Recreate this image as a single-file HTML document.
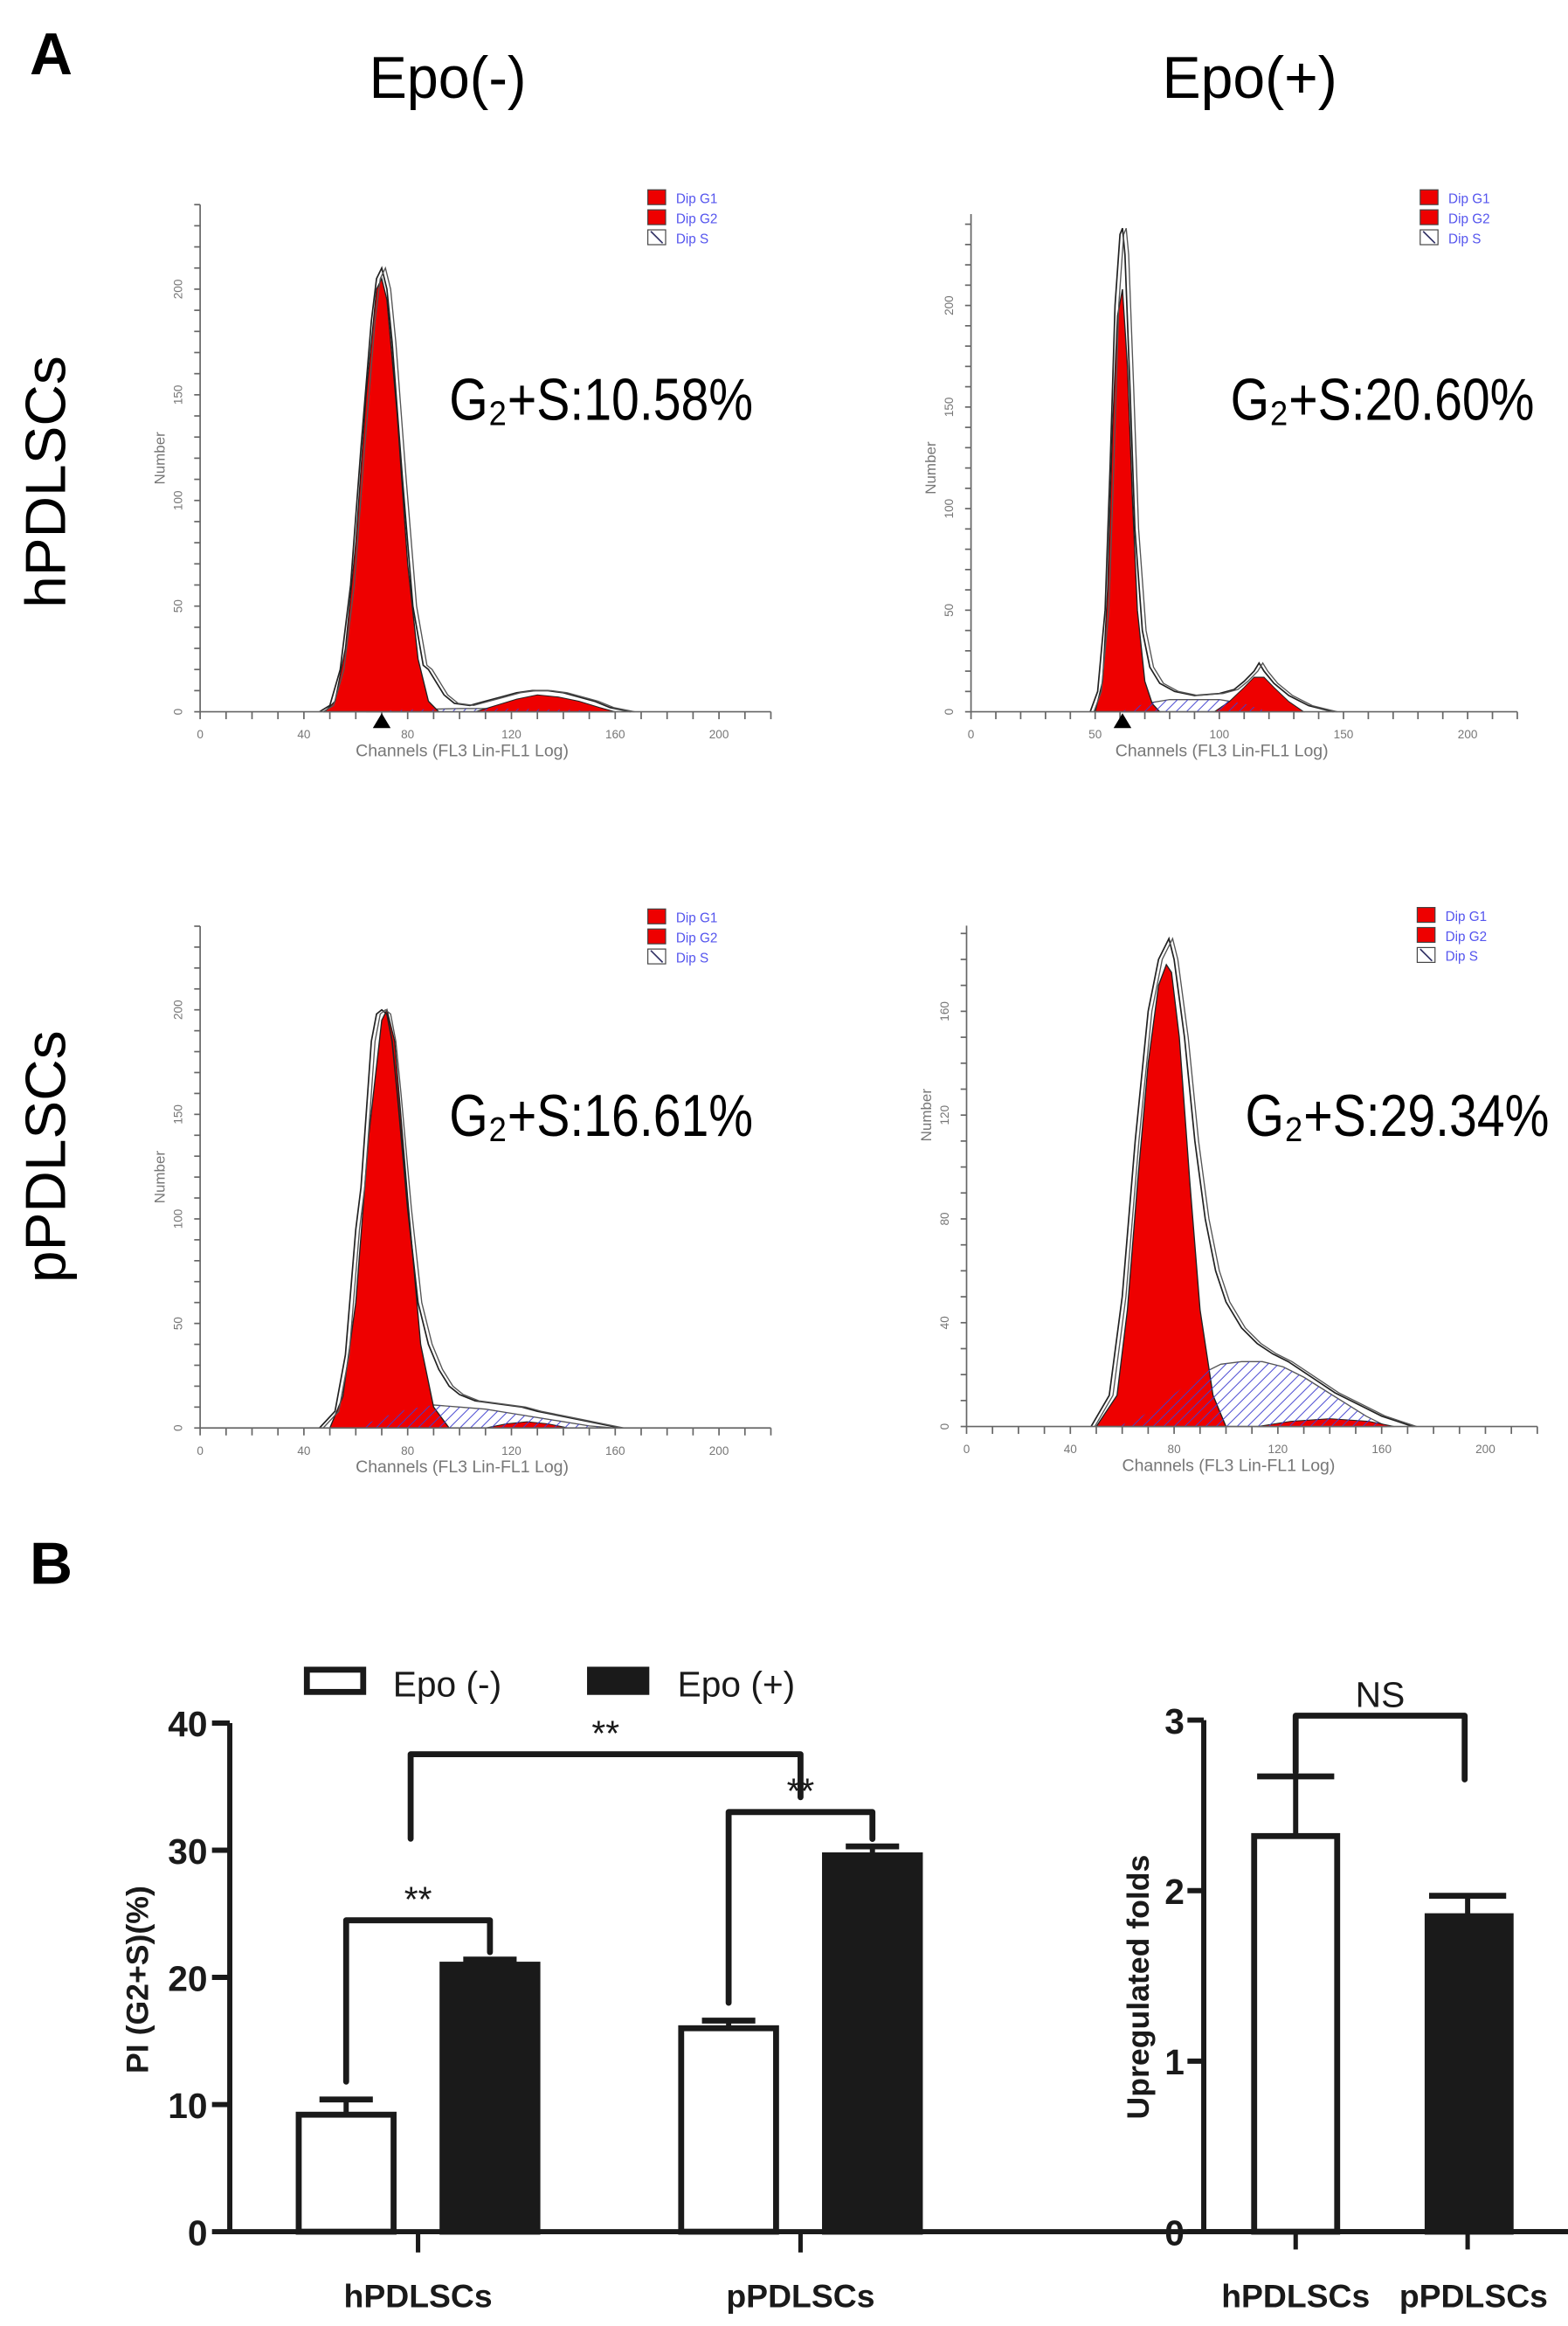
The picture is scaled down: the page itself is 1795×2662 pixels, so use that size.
<!DOCTYPE html>
<html><head><meta charset="utf-8">
<style>
html,body{margin:0;padding:0;background:#fff;}
svg{display:block;}
text{font-family:"Liberation Sans",Arial,sans-serif;}
</style></head>
<body>
<svg id="fig" width="1795" height="2662" viewBox="0 0 1057.7 1568.6" preserveAspectRatio="none" xmlns="http://www.w3.org/2000/svg">
<defs>
<pattern id="hatch" patternUnits="userSpaceOnUse" width="5" height="5" patternTransform="rotate(45)">
<rect width="5" height="5" fill="none"/>
<line x1="0" y1="0" x2="0" y2="5" stroke="#4040d0" stroke-width="1.1"/>
</pattern>
</defs>
<text x="20" y="50" font-size="40" font-weight="bold">A</text>
<text x="20" y="1068" font-size="40" font-weight="bold">B</text>
<text x="302" y="66" font-size="40" text-anchor="middle" textLength="106" lengthAdjust="spacingAndGlyphs">Epo(-)</text>
<text x="843" y="66" font-size="40" text-anchor="middle" textLength="118" lengthAdjust="spacingAndGlyphs">Epo(+)</text>
<text transform="translate(44,325) rotate(-90)" font-size="38" text-anchor="middle" textLength="170" lengthAdjust="spacingAndGlyphs">hPDLSCs</text>
<text transform="translate(44,780) rotate(-90)" font-size="38" text-anchor="middle" textLength="170" lengthAdjust="spacingAndGlyphs">pPDLSCs</text>
<g id="hists"></g>
<g id="bars"></g>
</svg>
<script>
// ---------- Histogram data (channel, count) ----------
const p1TotalCh = [46,50,54,58,62,66,68,70,72,74,78,82,86,88,90,94,98,104,110,116,122,128,134,140,146,152,158,162,166];
const p1TotalN  = [0,3,20,60,125,185,205,210,200,175,110,50,22,20,16,8,4,3,5,7,9,10,10,9,7,5,2,1,0];
const p1G1Ch = [48,52,56,60,64,68,70,72,76,80,84,88,92];
const p1G1N  = [0,5,30,80,150,200,205,195,140,70,25,5,0];
const p1G2Ch = [106,114,122,130,138,146,154,160];
const p1G2N  = [0,3,6,8,7,5,2,0];
const p1SCh = [64,80,100,120,140,160];
const p1SN  = [0,1,1.5,1.5,1,0];

const p2TotalCh = [48,51,54,56,58,60,61,62,64,66,69,72,76,82,90,100,106,110,114,116,118,122,128,136,146];
const p2TotalN  = [0,10,50,120,200,235,238,225,160,90,40,22,14,10,8,9,11,15,20,24,20,14,8,3,0];
const p2G1Ch = [50,53,55,57,59,61,63,65,67,70,73,76];
const p2G1N  = [0,15,60,140,195,208,170,105,50,15,4,0];
const p2G2Ch = [98,104,110,114,118,122,128,134];
const p2G2N  = [0,5,12,17,17,12,5,0];
const p2SCh = [60,70,80,90,100,110,120];
const p2SN  = [0,4,6,6,6,4,0];

const p3TotalCh = [46,52,56,60,62,64,66,68,70,72,74,76,80,84,88,92,96,100,106,112,118,124,130,138,146,154,162];
const p3TotalN  = [0,8,35,95,115,150,185,198,200,198,185,160,105,60,40,28,20,16,13,12,11,10,8,6,4,2,0];
const p3G1Ch = [50,55,60,65,70,72,75,80,85,90,96];
const p3G1N  = [0,15,60,140,195,200,185,110,40,10,0];
const p3G2Ch = [110,118,126,134,142];
const p3G2N  = [0,2,3,2,0];
const p3SCh = [60,70,80,90,100,110,120,130,140,150,160];
const p3SN  = [0,5,9,11,10,9,7,5,3,1,0];

const p4TotalCh = [48,55,60,65,70,74,78,80,84,88,92,96,100,106,112,118,124,130,136,142,148,154,160,166,172];
const p4TotalN  = [0,12,50,110,160,180,188,180,150,110,80,60,48,38,32,28,25,21,17,13,10,7,4,2,0];
const p4G1Ch = [50,58,62,66,70,74,77,79,82,86,90,95,100];
const p4G1N  = [0,12,45,95,140,170,178,175,150,95,45,12,0];
const p4G2Ch = [112,125,140,155,165];
const p4G2N  = [0,2,3,2,0];
const p4SCh = [58,66,74,82,90,98,106,114,122,130,138,146,154,162];
const p4SN  = [0,3,8,14,20,24,25,25,23,19,14,9,4,0];

const histTitles = ["G\u2082+S:10.58%","G\u2082+S:20.60%","G\u2082+S:16.61%","G\u2082+S:29.34%"];
const histYTicks = [[0,50,100,150,200],[0,50,100,150,200],[0,50,100,150,200],[0,40,80,120,160]];
const histXTicks = [[0,40,80,120,160,200],[0,50,100,150,200],[0,40,80,120,160,200],[0,40,80,120,160,200]];

// ---------- Bar chart data ----------
const groups = ["hPDLSCs","pPDLSCs"];
const epoMinus = [9.2, 16.0];
const epoMinusErr = [1.2, 0.6];
const epoPlus = [21.0, 29.6];
const epoPlusErr = [0.4, 0.7];
const yTicksLeft = [0,10,20,30,40];
const foldValues = [2.32, 1.85];
const foldErr = [0.35, 0.12];
const yTicksRight = [0,1,2,3];

const NS='http://www.w3.org/2000/svg';
function mk(tag, attrs, parent){const e=document.createElementNS(NS,tag);for(const k in attrs)e.setAttribute(k,attrs[k]);parent.appendChild(e);return e;}

const panels = [
 {ox:135,oy:480,sx:1.75,sy:1.425,ymax:240,xmax:220,tot:[p1TotalCh,p1TotalN],g1:[p1G1Ch,p1G1N],g2:[p1G2Ch,p1G2N],s:[p1SCh,p1SN],tx:303,ty:283,lx:437,ly:128,marker:70},
 {ox:655,oy:480,sx:1.675,sy:1.37,ymax:245,xmax:220,tot:[p2TotalCh,p2TotalN],g1:[p2G1Ch,p2G1N],g2:[p2G2Ch,p2G2N],s:[p2SCh,p2SN],tx:830,ty:283,lx:958,ly:128,marker:61},
 {ox:135,oy:963,sx:1.75,sy:1.41,ymax:240,xmax:220,tot:[p3TotalCh,p3TotalN],g1:[p3G1Ch,p3G1N],g2:[p3G2Ch,p3G2N],s:[p3SCh,p3SN],tx:303,ty:766,lx:437,ly:613,marker:null},
 {ox:652,oy:962,sx:1.75,sy:1.75,ymax:193,xmax:220,tot:[p4TotalCh,p4TotalN],g1:[p4G1Ch,p4G1N],g2:[p4G2Ch,p4G2N],s:[p4SCh,p4SN],tx:840,ty:766,lx:956,ly:612,marker:null}
];
const hg=document.getElementById('hists');
panels.forEach((p,i)=>{
  const g=mk('g',{},hg);
  
  
  const X=c=>p.ox+c*p.sx, Y=n=>p.oy-n*p.sy;
  const area=(arr)=>{let d='M'+X(arr[0][0])+','+p.oy;arr[0].forEach((c,k)=>{d+=' L'+X(c)+','+Y(arr[1][k]);});d+=' L'+X(arr[0][arr[0].length-1])+','+p.oy+' Z';return d;};
  const line=(arr,dx)=>{let d='';arr[0].forEach((c,k)=>{d+=(k?' L':'M')+(X(c)+dx)+','+Y(arr[1][k]);});return d;};
  const sw=mk('path',{d:area(p.s),fill:'#fff',stroke:'#555','stroke-width':0.8},g);
  
  
  const g1=mk('path',{d:area(p.g1),fill:'#ee0000',stroke:'#222','stroke-width':0.8},g);
  
  
  const g2=mk('path',{d:area(p.g2),fill:'#ee0000',stroke:'#222','stroke-width':0.6},g);
  
  
  const sh=mk('path',{d:area(p.s),fill:'url(#hatch)',stroke:'none'},g);
  
  
  const t1=mk('path',{d:line(p.tot,0),fill:'none',stroke:'#222','stroke-width':1},g);
  
  
  const t2=mk('path',{d:line(p.tot,2.5),fill:'none',stroke:'#555','stroke-width':0.8},g);
  
  
  const ax=mk('g',{stroke:'#666','stroke-width':1},g);
  
  
  mk('line',{x1:p.ox,y1:p.oy,x2:X(p.xmax),y2:p.oy},ax);
  mk('line',{x1:p.ox,y1:p.oy,x2:p.ox,y2:Y(p.ymax)},ax);
  for(let c=0;c<=p.xmax;c+=10) mk('line',{x1:X(c),y1:p.oy,x2:X(c),y2:p.oy+5},ax);
  for(let n=0;n<=p.ymax;n+=10) mk('line',{x1:p.ox,y1:Y(n),x2:p.ox-4,y2:Y(n)},ax);
  histXTicks[i].forEach(c=>{const t=mk('text',{x:X(c),y:p.oy+18,'font-size':8,fill:'#777','text-anchor':'middle'},g);t.textContent=c;
    });
  histYTicks[i].forEach(n=>{const t=mk('text',{transform:'translate('+(p.ox-12)+','+Y(n)+') rotate(-90)','font-size':8,fill:'#777','text-anchor':'middle'},g);t.textContent=n;
    });
  const xl=mk('text',{x:X(101),y:p.oy+30,'font-size':11.5,fill:'#777','text-anchor':'middle'},g);xl.textContent='Channels (FL3 Lin-FL1 Log)';
  
  const yl=mk('text',{transform:'translate('+(p.ox-24)+','+Y(120)+') rotate(-90)','font-size':10,fill:'#777','text-anchor':'middle'},g);yl.textContent='Number';
  
  if(p.marker!==null){const m=mk('path',{d:'M'+(X(p.marker)-6)+','+(p.oy+11)+' L'+(X(p.marker)+6)+','+(p.oy+11)+' L'+X(p.marker)+','+(p.oy+1)+' Z',fill:'#000'},g);
    }
  const tt=mk('text',{x:p.tx,y:p.ty,'font-size':40,fill:'#000'},g);
  tt.setAttribute('textLength','205');tt.setAttribute('lengthAdjust','spacingAndGlyphs');
  tt.textContent=histTitles[i];
  
  const lg=mk('g',{},g);
  
  const names=['Dip G1','Dip G2','Dip S'];
  names.forEach((nm,k)=>{
    mk('rect',{x:p.lx,y:p.ly+k*13.5,width:12,height:10,fill:k<2?'#ee0000':'#fff',stroke:'#444','stroke-width':0.7},lg);
    if(k==2) mk('line',{x1:p.lx+2,y1:p.ly+k*13.5+1,x2:p.lx+10,y2:p.ly+k*13.5+9,stroke:'#336','stroke-width':1},lg);
    const t=mk('text',{x:p.lx+19,y:p.ly+k*13.5+9,'font-size':9,fill:'#5555ee'},lg);t.textContent=nm;
  });
});

// ---------- Bar charts ----------
const bg=document.getElementById('bars');
const y0=1505, yL=v=>y0-v*8.575, yR=v=>y0-v*115;
const groupX=[282,540], off=48.5, bw=64;
function lineEl(x1,y1,x2,y2,w,parent,name){const l=mk('line',{x1:x1,y1:y1,x2:x2,y2:y2,stroke:'#1a1a1a','stroke-width':w||4},parent);return l;}
function txt(x,y,s,size,anchor,parent,name,extra){const t=mk('text',Object.assign({x:x,y:y,'font-size':size,'text-anchor':anchor||'middle',fill:'#1a1a1a'},extra||{}),parent);t.textContent=s;return t;}

const left=mk('g',{},bg);

lineEl(155,yL(0),155,yL(40),3.5,left,'y-axis');
lineEl(153,yL(0),1058,yL(0),3.5,left,'x-axis');
yTicksLeft.forEach(v=>{lineEl(143,yL(v),155,yL(v),3.5,left,'y-tick');txt(140,yL(v)+9,String(v),24,'end',left,'y-tick-label',{'font-weight':'bold'});});
groups.forEach((gname,i)=>{
  lineEl(groupX[i],y0,groupX[i],y0+14,3,left,'x-tick');
  txt(groupX[i],1556,gname,22,'middle',left,'x-tick-label',{'font-weight':'bold'});
  const xm=groupX[i]-off, xp=groupX[i]+off;
  lineEl(xm,yL(epoMinus[i]),xm,yL(epoMinus[i]+epoMinusErr[i]),3.5,left,'error-bar');
  lineEl(xm-18,yL(epoMinus[i]+epoMinusErr[i]),xm+18,yL(epoMinus[i]+epoMinusErr[i]),4,left,'error-cap');
  lineEl(xp,yL(epoPlus[i]),xp,yL(epoPlus[i]+epoPlusErr[i]),3.5,left,'error-bar');
  lineEl(xp-18,yL(epoPlus[i]+epoPlusErr[i]),xp+18,yL(epoPlus[i]+epoPlusErr[i]),4,left,'error-cap');
  const b1=mk('rect',{x:xm-bw/2,y:yL(epoMinus[i]),width:bw,height:y0-yL(epoMinus[i]),fill:'#fff',stroke:'#1a1a1a','stroke-width':4},left);
  
  const b2=mk('rect',{x:xp-bw/2,y:yL(epoPlus[i]),width:bw,height:y0-yL(epoPlus[i]),fill:'#1a1a1a',stroke:'#1a1a1a','stroke-width':4},left);
  
});
function bracket(x1,yb1,x2,yb2,ytop,label,parent,name,lsize){
  const p=mk('path',{d:'M'+x1+','+yb1+' L'+x1+','+ytop+' L'+x2+','+ytop+' L'+x2+','+yb2,fill:'none',stroke:'#1a1a1a','stroke-width':4,'stroke-linejoin':'round','stroke-linecap':'round'},parent);
  
  txt((x1+x2)/2,ytop-6,label,lsize||24,'middle',parent,name+'-label');
}
bracket(groupX[0]-off,yL(epoMinus[0]+epoMinusErr[0])-12,groupX[0]+off,yL(epoPlus[0]+epoPlusErr[0])-5,1295,'**',left,'significance-h');
bracket(groupX[1]-off,yL(epoMinus[1]+epoMinusErr[1])-12,groupX[1]+off,yL(epoPlus[1]+epoPlusErr[1])-5,1222,'**',left,'significance-p');
bracket(277,1240,540,1212,1183,'**',left,'significance-minus');
const lg=mk('g',{},left);

const l1=mk('rect',{x:207,y:1126,width:38,height:15,fill:'#fff',stroke:'#1a1a1a','stroke-width':4},lg);

txt(265,1144,'Epo (-)',24,'start',lg,'legend-entry-epo-minus');
const l2=mk('rect',{x:398,y:1126,width:38,height:15,fill:'#1a1a1a',stroke:'#1a1a1a','stroke-width':4},lg);

txt(457,1144,'Epo (+)',24,'start',lg,'legend-entry-epo-plus');
txt(0,0,'PI (G2+S)(%)',21,'middle',left,'y-axis-title',{'font-weight':'bold',transform:'translate(100,1335) rotate(-90)',x:0,y:0});

const right=mk('g',{},bg);

const rx=[874,990], rbw=56, rAxis=812;
lineEl(rAxis,yR(0),rAxis,yR(3),3.5,right,'y-axis');
lineEl(rAxis-2,yR(0),1058,yR(0),3.5,right,'x-axis');
yTicksRight.forEach(v=>{lineEl(rAxis-11,yR(v),rAxis,yR(v),3.5,right,'y-tick');txt(rAxis-13,yR(v)+9,String(v),24,'end',right,'y-tick-label',{'font-weight':'bold'});});
groups.forEach((gname,i)=>{
  lineEl(rx[i],y0,rx[i],y0+12,3,right,'x-tick');
  txt(rx[i]+(i?4:0),1556,gname,22,'middle',right,'x-tick-label',{'font-weight':'bold'});
  lineEl(rx[i],yR(foldValues[i]),rx[i],yR(foldValues[i]+foldErr[i]),3.5,right,'error-bar');
  lineEl(rx[i]-26,yR(foldValues[i]+foldErr[i]),rx[i]+26,yR(foldValues[i]+foldErr[i]),4,right,'error-cap');
  const b=mk('rect',{x:rx[i]-rbw/2+(i?1:0),y:yR(foldValues[i]),width:rbw,height:y0-yR(foldValues[i]),fill:i?'#1a1a1a':'#fff',stroke:'#1a1a1a','stroke-width':4},right);
  
});
bracket(874,1195,988,1200,1157,'NS',right,'significance-ns',24);
txt(0,0,'Upregulated folds',21,'middle',right,'y-axis-title',{'font-weight':'bold',transform:'translate(775,1340) rotate(-90)',x:0,y:0});
</script>
</body></html>
